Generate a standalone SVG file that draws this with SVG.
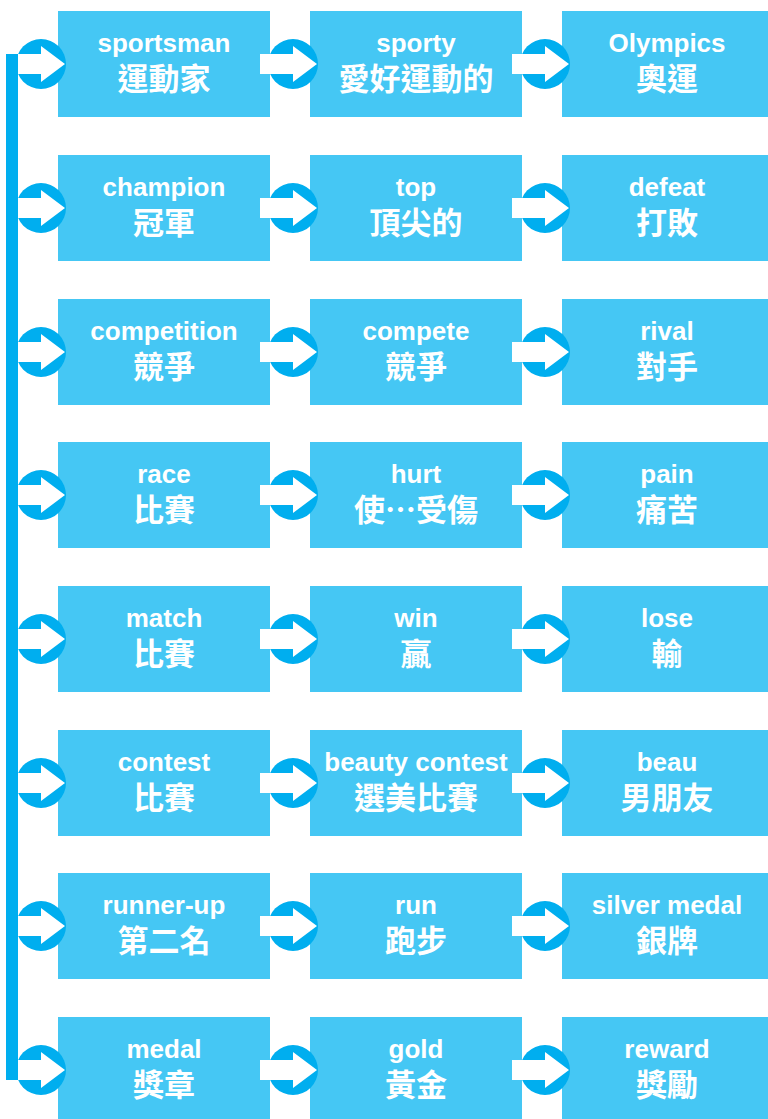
<svg xmlns="http://www.w3.org/2000/svg" width="768" height="1119" viewBox="0 0 768 1119">
<style>
.box{fill:#45C7F4}
.en{font-family:"Liberation Sans","Noto Sans CJK TC",sans-serif;font-weight:bold;font-size:26px;fill:#fff;text-anchor:middle}
.zh{font-family:"Noto Sans CJK TC",sans-serif;font-weight:bold;font-size:31px;fill:#fff;text-anchor:middle}
.c{fill:#00AEEF}
.a{fill:#fff}
</style>
<defs>
<g id="arr">
<circle class="c" cx="0" cy="0" r="25"/>
<path class="a" d="M-33,-10H0V-18L24,0L0,18V10H-33Z"/>
</g>
</defs>
<g id="nodes">
<g id="n11"><rect class="box" x="58" y="11" width="212" height="106"/><text class="en" x="164" y="52">sportsman</text><text class="zh" x="164" y="90">運動家</text></g>
<g id="n12"><rect class="box" x="310" y="11" width="212" height="106"/><text class="en" x="416" y="52">sporty</text><text class="zh" x="416" y="90">愛好運動的</text></g>
<g id="n13"><rect class="box" x="562" y="11" width="212" height="106"/><text class="en" x="667" y="52">Olympics</text><text class="zh" x="667" y="90">奧運</text></g>

<g id="n21"><rect class="box" x="58" y="155" width="212" height="106"/><text class="en" x="164" y="196">champion</text><text class="zh" x="164" y="234">冠軍</text></g>
<g id="n22"><rect class="box" x="310" y="155" width="212" height="106"/><text class="en" x="416" y="196">top</text><text class="zh" x="416" y="234">頂尖的</text></g>
<g id="n23"><rect class="box" x="562" y="155" width="212" height="106"/><text class="en" x="667" y="196">defeat</text><text class="zh" x="667" y="234">打敗</text></g>

<g id="n31"><rect class="box" x="58" y="299" width="212" height="106"/><text class="en" x="164" y="340">competition</text><text class="zh" x="164" y="378">競爭</text></g>
<g id="n32"><rect class="box" x="310" y="299" width="212" height="106"/><text class="en" x="416" y="340">compete</text><text class="zh" x="416" y="378">競爭</text></g>
<g id="n33"><rect class="box" x="562" y="299" width="212" height="106"/><text class="en" x="667" y="340">rival</text><text class="zh" x="667" y="378">對手</text></g>

<g id="n41"><rect class="box" x="58" y="442" width="212" height="106"/><text class="en" x="164" y="483">race</text><text class="zh" x="164" y="521">比賽</text></g>
<g id="n42"><rect class="box" x="310" y="442" width="212" height="106"/><text class="en" x="416" y="483">hurt</text><text class="zh" x="416" y="521">使…受傷</text></g>
<g id="n43"><rect class="box" x="562" y="442" width="212" height="106"/><text class="en" x="667" y="483">pain</text><text class="zh" x="667" y="521">痛苦</text></g>

<g id="n51"><rect class="box" x="58" y="586" width="212" height="106"/><text class="en" x="164" y="627">match</text><text class="zh" x="164" y="665">比賽</text></g>
<g id="n52"><rect class="box" x="310" y="586" width="212" height="106"/><text class="en" x="416" y="627">win</text><text class="zh" x="416" y="665">贏</text></g>
<g id="n53"><rect class="box" x="562" y="586" width="212" height="106"/><text class="en" x="667" y="627">lose</text><text class="zh" x="667" y="665">輸</text></g>

<g id="n61"><rect class="box" x="58" y="730" width="212" height="106"/><text class="en" x="164" y="771">contest</text><text class="zh" x="164" y="809">比賽</text></g>
<g id="n62"><rect class="box" x="310" y="730" width="212" height="106"/><text class="en" x="416" y="771">beauty contest</text><text class="zh" x="416" y="809">選美比賽</text></g>
<g id="n63"><rect class="box" x="562" y="730" width="212" height="106"/><text class="en" x="667" y="771">beau</text><text class="zh" x="667" y="809">男朋友</text></g>

<g id="n71"><rect class="box" x="58" y="873" width="212" height="106"/><text class="en" x="164" y="914">runner-up</text><text class="zh" x="164" y="952">第二名</text></g>
<g id="n72"><rect class="box" x="310" y="873" width="212" height="106"/><text class="en" x="416" y="914">run</text><text class="zh" x="416" y="952">跑步</text></g>
<g id="n73"><rect class="box" x="562" y="873" width="212" height="106"/><text class="en" x="667" y="914">silver medal</text><text class="zh" x="667" y="952">銀牌</text></g>

<g id="n81"><rect class="box" x="58" y="1017" width="212" height="106"/><text class="en" x="164" y="1058">medal</text><text class="zh" x="164" y="1096">獎章</text></g>
<g id="n82"><rect class="box" x="310" y="1017" width="212" height="106"/><text class="en" x="416" y="1058">gold</text><text class="zh" x="416" y="1096">黃金</text></g>
<g id="n83"><rect class="box" x="562" y="1017" width="212" height="106"/><text class="en" x="667" y="1058">reward</text><text class="zh" x="667" y="1096">獎勵</text></g>
</g>
<g id="connectors">
<use href="#arr" x="41" y="64"/><use href="#arr" x="293" y="64"/><use href="#arr" x="545" y="64"/>
<use href="#arr" x="41" y="208"/><use href="#arr" x="293" y="208"/><use href="#arr" x="545" y="208"/>
<use href="#arr" x="41" y="352"/><use href="#arr" x="293" y="352"/><use href="#arr" x="545" y="352"/>
<use href="#arr" x="41" y="495"/><use href="#arr" x="293" y="495"/><use href="#arr" x="545" y="495"/>
<use href="#arr" x="41" y="639"/><use href="#arr" x="293" y="639"/><use href="#arr" x="545" y="639"/>
<use href="#arr" x="41" y="783"/><use href="#arr" x="293" y="783"/><use href="#arr" x="545" y="783"/>
<use href="#arr" x="41" y="926"/><use href="#arr" x="293" y="926"/><use href="#arr" x="545" y="926"/>
<use href="#arr" x="41" y="1070"/><use href="#arr" x="293" y="1070"/><use href="#arr" x="545" y="1070"/>
<rect class="c" x="6" y="54" width="12" height="1026"/>
</g>
</svg>
